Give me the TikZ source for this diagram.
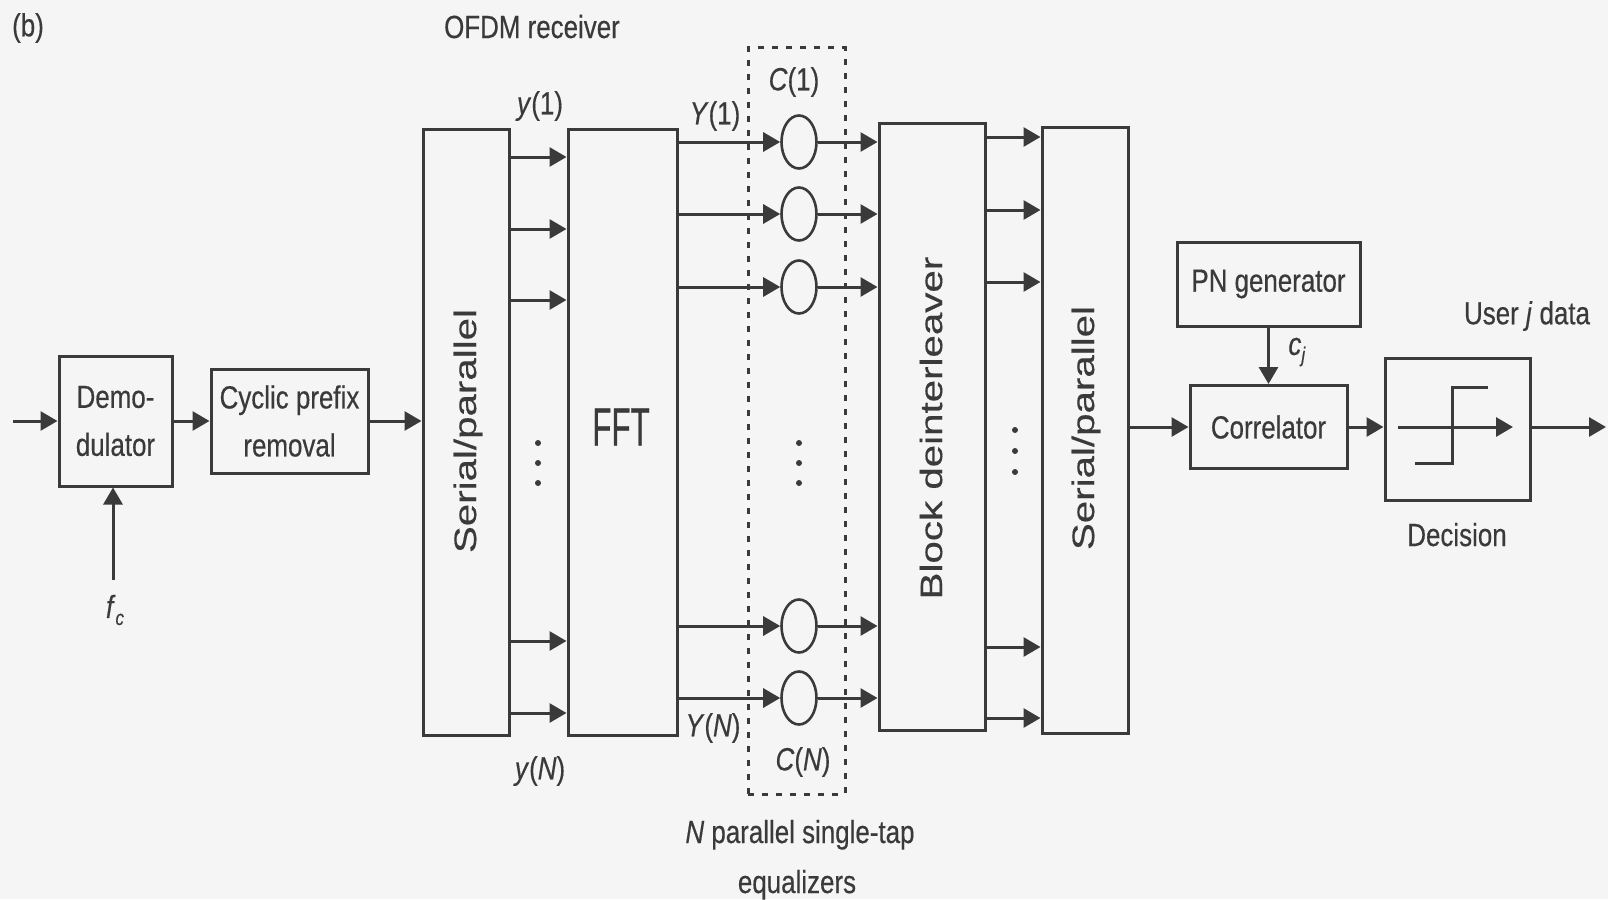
\documentclass[tikz,border=0pt]{standalone}
\usepackage{fontspec}
\setmainfont[FakeStretch=0.81,FakeBold=0.4]{Liberation Sans}
\newfontfamily\rotfont[FakeStretch=1.3,FakeBold=0.4]{Liberation Sans}
\newfontfamily\fftfont[FakeStretch=0.58,FakeBold=0.5]{Liberation Sans}
\usetikzlibrary{arrows.meta,shapes.geometric}
\definecolor{ink}{HTML}{3A3A3A}
\definecolor{paper}{HTML}{F5F5F5}
\newcommand{\subsc}[1]{\raisebox{-7pt}{\fontsize{21}{21}\selectfont\textit{#1}}}
\begin{document}
\begin{tikzpicture}[x=1pt,y=-1pt,
  every node/.style={text=ink, font=\fontsize{32}{48}\selectfont},
  box/.style={draw=ink, line width=3pt, inner sep=0pt, align=center},
  arr/.style={draw=ink, line width=3pt, -{Triangle[length=17pt,width=19pt]}},
  eqz/.style={ellipse, draw=ink, line width=2.6pt, minimum width=35pt, minimum height=53pt, inner sep=0pt},
  rot/.style={rotate=90, inner sep=0pt, font=\rotfont\fontsize{31}{31}\selectfont},
  dotbox/.style={draw=ink, line width=3pt, dash pattern=on 6pt off 8pt, inner sep=0pt},
  lbl/.style={inner sep=0pt},
  dot/.style={circle, fill=ink, inner sep=0pt, minimum size=6pt}
]
\fill[paper] (0,0) rectangle (1608,899);
\useasboundingbox (0,0) rectangle (1608,899);

% titles
\node[lbl] (tb) at (28,28) {(b)};
\node[lbl, anchor=base] (tofdm) at (532,38) {OFDM receiver};

% front end
\node[box, minimum width=113pt, minimum height=130pt] (demod) at (115.5,421) {Demo-\\dulator};
\node[box, minimum width=157pt, minimum height=104pt] (cp) at (289.5,421) {Cyclic prefix\\removal};
\coordinate (in) at (13,421);
\coordinate (fc) at (113,580);
\draw[arr] (in) -- (demod.west);
\draw[arr] (demod.east) -- (cp.west);
\draw[arr] (fc) -- (fc |- demod.south);
\node[lbl] (tfc) at (115,610) {\textit{f}\subsc{c}};

% serial/parallel 1 and FFT
\node[box, minimum width=86pt, minimum height=606pt] (sp1) at (466,432) {};
\node[rot] (tsp1) at (468,431) {Serial/parallel};
\node[box, minimum width=109pt, minimum height=606pt] (fft) at (622.5,432) {};
\node[lbl, font=\fftfont\fontsize{54}{54}\selectfont] (tfft) at (621,427) {FFT};
\draw[arr] (cp.east) -- (sp1.west |- cp.east);
\foreach \yy in {157,229,300,641,713}
  \draw[arr] (sp1.east |- 0,\yy) -- (fft.west |- 0,\yy);
\node[dot] (d1a) at (538,443) {};
\node[dot] (d1b) at (538,463) {};
\node[dot] (d1c) at (538,483) {};
\node[lbl] (ty1) at (540,106) {\textit{y}(1)};
\node[lbl] (tyN) at (540,771) {\textit{y}(\textit{N})};

% equalizers
\node[dotbox, minimum width=97pt, minimum height=746pt] (eqbox) at (796.5,421) {};
\node[box, minimum width=106pt, minimum height=607pt] (deint) at (932,426.5) {};
\node[rot] (tdeint) at (931,428) {Block deinterleaver};
\foreach \yy/\nm in {142/e1,214/e2,287/e3,626/e4,698/e5} {
  \node[eqz] (\nm) at (799,\yy) {};
  \draw[arr] (fft.east |- \nm.west) -- (\nm.west);
  \draw[arr] (\nm.east) -- (deint.west |- \nm.east);
}
\node[dot] (d2a) at (799,443) {};
\node[dot] (d2b) at (799,463) {};
\node[dot] (d2c) at (799,483) {};
\node[lbl] (tY1) at (715,116) {\textit{Y}(1)};
\node[lbl] (tC1) at (794,82) {\textit{C}(1)};
\node[lbl] (tYN) at (713,728) {\textit{Y}(\textit{N})};
\node[lbl] (tCN) at (803,762) {\textit{C}(\textit{N})};
\node[lbl, anchor=base] (teq1) at (800,843) {\textit{N} parallel single-tap};
\node[lbl, anchor=base] (teq2) at (797,893) {equalizers};

% serial/parallel 2
\node[box, minimum width=86pt, minimum height=606pt] (sp2) at (1085,430) {};
\node[rot] (tsp2) at (1086,428) {Serial/parallel};
\foreach \yy in {137,210,282,647,718}
  \draw[arr] (deint.east |- 0,\yy) -- (sp2.west |- 0,\yy);
\node[dot] (d3a) at (1015,430) {};
\node[dot] (d3b) at (1015,451) {};
\node[dot] (d3c) at (1015,472) {};

% back end
\node[box, minimum width=183pt, minimum height=84pt] (pn) at (1268.5,284) {PN generator};
\node[box, minimum width=157pt, minimum height=83pt] (corr) at (1268.5,427) {Correlator};
\node[box, minimum width=145pt, minimum height=142pt] (dec) at (1457.5,429) {};
\coordinate (out) at (1606,427);
\draw[arr] (sp2.east |- corr.west) -- (corr.west);
\draw[arr] (pn.south) -- (corr.north);
\draw[arr] (corr.east) -- (dec.west |- corr.east);
\draw[arr] (dec.east |- out) -- (out);
\node[lbl] (tcj) at (1297,352) {\textit{c}\subsc{j}};
\node[lbl] (tuser) at (1527,316) {User \textit{j} data};
\node[lbl, anchor=base] (tdec) at (1457,546) {Decision};
% decision symbol
\draw[arr] (1398,427) -- (1513,427);
\draw[draw=ink, line width=3pt] (1415,463) -- (1452,463) -- (1452,387) -- (1488,387);
\end{tikzpicture}
\end{document}
